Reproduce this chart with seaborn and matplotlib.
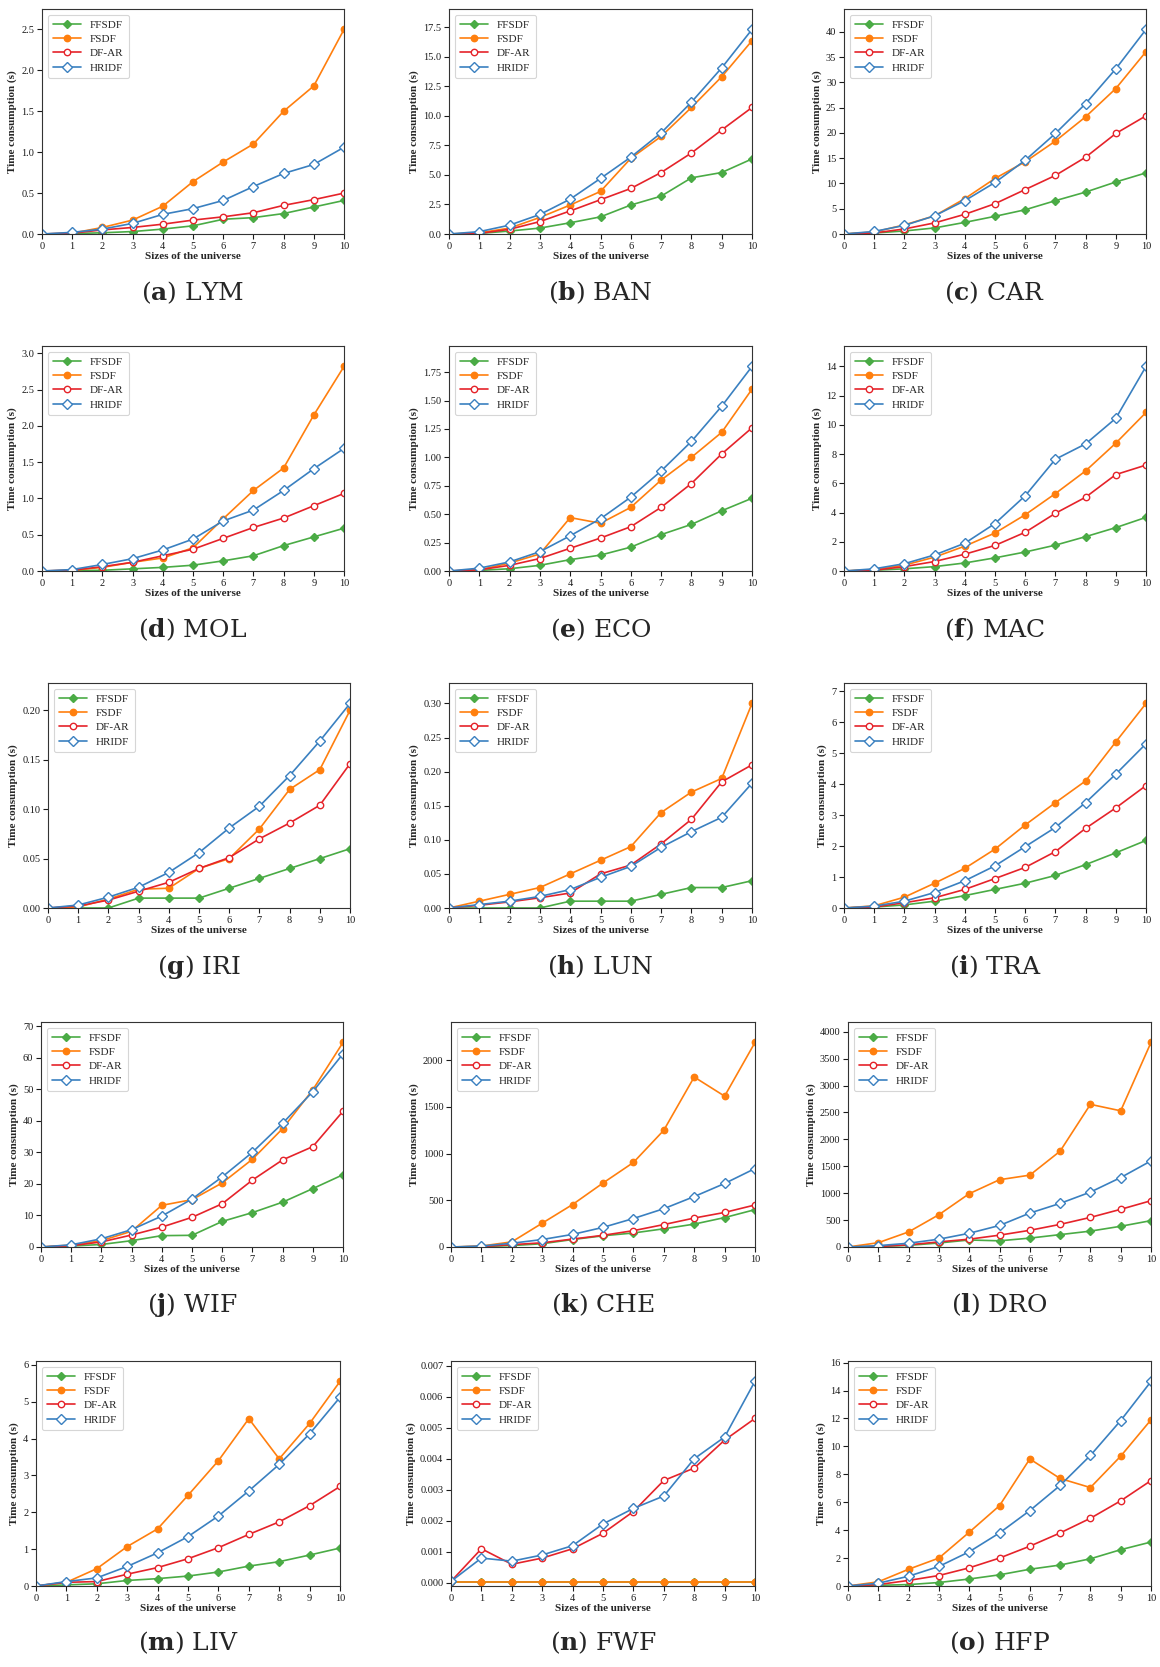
import matplotlib
matplotlib.use("Agg")
import matplotlib.pyplot as plt
import pandas as pd
import seaborn as sns
from matplotlib.ticker import MultipleLocator

# ----------------------------
# Data (rows: FFSDF, FSDF, DF-AR, HRIDF)
# ----------------------------
sizes = list(range(11))
methods = ["FFSDF", "FSDF", "DF-AR", "HRIDF"]
letters = list("abcdefghijklmno")
names = ["LYM", "BAN", "CAR", "MOL", "ECO", "MAC", "IRI", "LUN", "TRA",
         "WIF", "CHE", "DRO", "LIV", "FWF", "HFP"]

LYM = [[0, 0.005, 0.015, 0.03, 0.06, 0.1, 0.18, 0.2, 0.25, 0.33, 0.41],
       [0, 0.01, 0.08, 0.17, 0.34, 0.64, 0.88, 1.1, 1.5, 1.81, 2.5],
       [0, 0.01, 0.05, 0.08, 0.12, 0.17, 0.21, 0.26, 0.35, 0.42, 0.5],
       [0, 0.02, 0.06, 0.13, 0.24, 0.31, 0.41, 0.58, 0.74, 0.85, 1.06]]
BAN = [[0, 0.05, 0.25, 0.5, 0.95, 1.45, 2.45, 3.2, 4.75, 5.2, 6.35],
       [0, 0.1, 0.5, 1.4, 2.45, 3.6, 6.4, 8.25, 10.7, 13.3, 16.35],
       [0, 0.05, 0.4, 1.05, 1.95, 2.9, 3.85, 5.2, 6.85, 8.8, 10.7],
       [0, 0.2, 0.75, 1.65, 2.95, 4.7, 6.5, 8.55, 11.15, 14.05, 17.3]]
CAR = [[0, 0.2, 0.6, 1.2, 2.3, 3.5, 4.8, 6.6, 8.3, 10.3, 12.1],
       [0, 0.4, 1.8, 3.6, 7.0, 11.0, 14.3, 18.4, 23.2, 28.8, 36.1],
       [0, 0.2, 1.0, 2.2, 3.9, 6.0, 8.8, 11.6, 15.2, 19.9, 23.4],
       [0, 0.5, 1.7, 3.6, 6.6, 10.2, 14.6, 19.9, 25.8, 32.7, 40.5]]
MOL = [[0, 0.005, 0.01, 0.03, 0.05, 0.08, 0.14, 0.21, 0.35, 0.47, 0.59],
       [0, 0.01, 0.05, 0.12, 0.18, 0.32, 0.72, 1.11, 1.42, 2.15, 2.82],
       [0, 0.01, 0.06, 0.12, 0.21, 0.3, 0.45, 0.6, 0.73, 0.9, 1.07],
       [0, 0.02, 0.09, 0.17, 0.29, 0.44, 0.69, 0.84, 1.11, 1.41, 1.69]]
ECO = [[0, 0.005, 0.02, 0.05, 0.1, 0.14, 0.21, 0.32, 0.41, 0.53, 0.64],
       [0, 0.01, 0.07, 0.15, 0.47, 0.42, 0.56, 0.8, 1.0, 1.22, 1.6],
       [0, 0.01, 0.05, 0.11, 0.2, 0.29, 0.39, 0.56, 0.77, 1.03, 1.26],
       [0, 0.025, 0.08, 0.17, 0.31, 0.46, 0.65, 0.88, 1.14, 1.45, 1.8]]
MAC = [[0, 0.05, 0.15, 0.3, 0.55, 0.9, 1.3, 1.77, 2.35, 2.97, 3.67],
       [0, 0.1, 0.4, 0.95, 1.7, 2.6, 3.85, 5.3, 6.85, 8.75, 10.85],
       [0, 0.05, 0.3, 0.65, 1.15, 1.75, 2.65, 3.95, 5.05, 6.6, 7.25],
       [0, 0.15, 0.5, 1.1, 1.9, 3.25, 5.15, 7.65, 8.7, 10.45, 14.0]]
IRI = [[0, 0.0, 0.0, 0.01, 0.01, 0.01, 0.02, 0.03, 0.04, 0.05, 0.06],
       [0, 0.001, 0.009, 0.019, 0.02, 0.04, 0.05, 0.08, 0.12, 0.14, 0.2],
       [0, 0.002, 0.008, 0.017, 0.026, 0.04, 0.051, 0.07, 0.086, 0.104, 0.146],
       [0, 0.003, 0.011, 0.021, 0.036, 0.056, 0.081, 0.103, 0.134, 0.169, 0.207]]
LUN = [[0, 0, 0, 0, 0.01, 0.01, 0.01, 0.02, 0.03, 0.03, 0.04],
       [0, 0.01, 0.02, 0.03, 0.05, 0.07, 0.09, 0.14, 0.17, 0.19, 0.30],
       [0, 0.004, 0.009, 0.015, 0.022, 0.05, 0.063, 0.094, 0.13, 0.185, 0.21],
       [0, 0.005, 0.01, 0.017, 0.027, 0.045, 0.061, 0.089, 0.112, 0.133, 0.183]]
TRA = [[0, 0.03, 0.1, 0.22, 0.4, 0.6, 0.8, 1.05, 1.4, 1.78, 2.18],
       [0, 0.07, 0.35, 0.8, 1.28, 1.9, 2.68, 3.4, 4.1, 5.36, 6.6],
       [0, 0.03, 0.17, 0.33, 0.6, 0.95, 1.31, 1.82, 2.57, 3.23, 3.95],
       [0, 0.06, 0.22, 0.5, 0.88, 1.36, 1.98, 2.6, 3.4, 4.32, 5.3]]
WIF = [[0, 0.3, 0.8, 2.0, 3.6, 3.7, 8.1, 10.9, 14.2, 18.5, 22.9],
       [0, 0.6, 2.0, 5.0, 13.2, 15.0, 20.3, 27.8, 37.5, 49.8, 64.8],
       [0, 0.4, 1.6, 3.8, 6.3, 9.4, 13.7, 21.2, 27.6, 31.8, 43.0],
       [0, 0.7, 2.6, 5.5, 9.8, 15.2, 22.2, 30.0, 39.2, 49.2, 61.2]]
CHE = [[0, 5, 15, 35, 80, 120, 150, 195, 245, 315, 400],
       [0, 10, 55, 255, 455, 685, 905, 1250, 1820, 1615, 2190],
       [0, 5, 25, 45, 85, 125, 175, 240, 310, 370, 450],
       [0, 10, 40, 80, 135, 210, 305, 410, 540, 680, 840]]
DRO = [[0, 10, 30, 75, 130, 115, 165, 230, 295, 385, 490],
       [0, 80, 280, 600, 990, 1250, 1335, 1780, 2650, 2530, 3800],
       [0, 10, 40, 95, 145, 220, 310, 420, 550, 700, 860],
       [0, 25, 70, 145, 255, 400, 630, 810, 1020, 1290, 1600]]
LIV = [[0, 0.03, 0.06, 0.15, 0.2, 0.27, 0.38, 0.54, 0.66, 0.84, 1.03],
       [0, 0.1, 0.47, 1.07, 1.55, 2.46, 3.4, 4.54, 3.45, 4.41, 5.55],
       [0, 0.1, 0.12, 0.32, 0.5, 0.74, 1.04, 1.4, 1.74, 2.18, 2.7],
       [0, 0.12, 0.22, 0.53, 0.9, 1.34, 1.9, 2.58, 3.3, 4.13, 5.12]]
FWF = [[0.00002] * 11,
       [0.00004] * 11,
       [0.00005, 0.0011, 0.0006, 0.0008, 0.0011, 0.0016, 0.0023, 0.0033, 0.0037, 0.0046, 0.0053],
       [0.00005, 0.0008, 0.0007, 0.0009, 0.0012, 0.0019, 0.0024, 0.0028, 0.0040, 0.0047, 0.0065]]
HFP = [[0, 0.05, 0.1, 0.25, 0.5, 0.8, 1.2, 1.5, 1.95, 2.6, 3.15],
       [0, 0.3, 1.2, 2.0, 3.85, 5.75, 9.1, 7.7, 7.05, 9.3, 11.9],
       [0, 0.1, 0.4, 0.75, 1.3, 2.0, 2.85, 3.8, 4.85, 6.1, 7.55],
       [0, 0.2, 0.7, 1.4, 2.45, 3.8, 5.4, 7.2, 9.35, 11.85, 14.65]]

datasets = [LYM, BAN, CAR, MOL, ECO, MAC, IRI, LUN, TRA, WIF, CHE, DRO, LIV, FWF, HFP]
y_steps = [0.5, 2.5, 5, 0.5, 0.25, 2, 0.05, 0.05, 1, 10, 500, 500, 1, 0.001, 2]

# ----------------------------
# Layout (pixels in a 1160 x 1667 canvas)
# ----------------------------
W, H = 1160, 1667
ax_left = [42, 449, 844, 42, 449, 844, 48, 449, 844, 41, 451, 848, 36, 451, 848]
ax_right = [344, 752, 1146, 344, 752, 1146, 350, 752, 1146, 343, 755, 1151, 340, 755, 1151]
row_top = [9, 346, 683, 1022, 1361]
ax_height = 225
caption_y = [293, 630, 967, 1305, 1643]

styles = {
    "FFSDF": dict(color="#4aab45", marker="D", markerfacecolor="#4aab45", markersize=4.2),
    "FSDF": dict(color="#ff7f0e", marker="o", markerfacecolor="#ff7f0e", markersize=4.6),
    "DF-AR": dict(color="#e5232a", marker="o", markerfacecolor="white", markersize=4.6),
    "HRIDF": dict(color="#3a80c0", marker="D", markerfacecolor="white", markersize=4.6),
}

sns.set_theme(context="paper", style="ticks")
plt.rcParams["font.family"] = ["Liberation Serif", "DejaVu Serif"]
plt.rcParams["mathtext.fontset"] = "dejavuserif"
plt.rcParams["axes.edgecolor"] = "0.2"
plt.rcParams["axes.linewidth"] = 0.8
plt.rcParams["xtick.major.size"] = 3.5
plt.rcParams["ytick.major.size"] = 3.5
plt.rcParams["xtick.major.width"] = 0.8
plt.rcParams["ytick.major.width"] = 0.8

fig = plt.figure(figsize=(W / 100, H / 100), dpi=100)

for i, data in enumerate(datasets):
    row = i // 3
    left = ax_left[i] / W
    width = (ax_right[i] - ax_left[i]) / W
    bottom = 1 - (row_top[row] + ax_height) / H
    ax = fig.add_axes([left, bottom, width, ax_height / H])

    df = pd.DataFrame({"size": sizes * 4,
                       "time": [v for series in data for v in series],
                       "method": [m for m in methods for _ in sizes]})
    for m in methods:
        sub = df[df["method"] == m]
        st = styles[m]
        sns.lineplot(data=sub, x="size", y="time", ax=ax, label=m,
                     linewidth=1.2, markeredgewidth=1.0,
                     markeredgecolor=st["color"], **st)

    ymax = max(max(s) for s in data) * 1.1
    ymin = -0.0001 if names[i] == "FWF" else 0
    ax.set_xlim(0, 10)
    ax.set_ylim(ymin, ymax)
    ax.xaxis.set_major_locator(MultipleLocator(1))
    ax.yaxis.set_major_locator(MultipleLocator(y_steps[i]))
    ax.tick_params(labelsize=7.5, pad=2, colors="0.1")
    ax.set_xlabel("Sizes of the universe", fontsize=8, fontweight="bold", labelpad=1)
    ax.set_ylabel("Time consumption (s)", fontsize=8, fontweight="bold", labelpad=3)
    leg = ax.legend(loc="upper left", fontsize=8, frameon=True, handlelength=2.5,
                    borderpad=0.5, labelspacing=0.4, fancybox=True)
    leg.get_frame().set_edgecolor("0.8")
    leg.get_frame().set_linewidth(0.8)

    cx = (ax_left[i] + ax_right[i]) / 2 / W
    fig.text(cx, 1 - caption_y[row] / H, r"($\mathbf{%s}$) %s" % (letters[i], names[i]),
             ha="center", va="center", fontsize=18, family="DejaVu Serif")

fig.savefig("out.png", dpi=100)
